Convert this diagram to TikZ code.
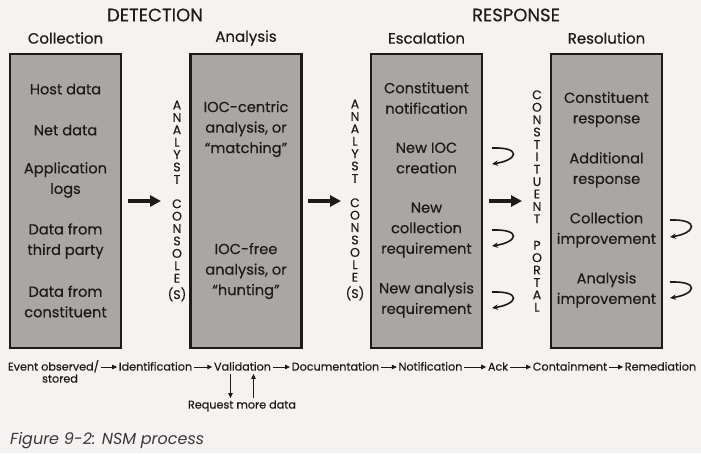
\documentclass[tikz,border=0pt]{standalone}
\usepackage{fontspec}
\setmainfont{Poppins}[FakeBold=0.45]
\newfontfamily\capfont{Poppins}
\usetikzlibrary{arrows.meta}
\definecolor{bg}{HTML}{F4F3F1}
\definecolor{boxgray}{HTML}{A9A7A6}
\definecolor{ink}{HTML}{1E1A1A}
\definecolor{captioncol}{HTML}{3A3838}
\begin{document}
\begin{tikzpicture}[x=1pt,y=-1pt,
  stage/.style={draw=ink, line width=2.2pt, fill=boxgray, minimum width=111pt, minimum height=294pt, inner sep=0pt},
  boxtxt/.style={font=\fontsize{14.6}{20.5}\selectfont, align=center, text=ink, inner sep=0pt},
  head/.style={font=\fontsize{15}{18}\selectfont, text=ink, inner sep=0pt},
  bighead/.style={font=\fontsize{18}{20}\selectfont, text=ink, inner sep=0pt},
  vert/.style={font=\fontsize{12.5}{12.4}\selectfont, align=center, text=ink, inner sep=0pt},
  tl/.style={font=\fontsize{11.2}{13}\selectfont, text=ink, inner sep=1.5pt, text height=1.6ex, text depth=0.3ex},
  tlarrow/.style={draw=ink, -{Triangle[length=5pt,width=4.5pt]}, line width=0.9pt},
  bigarrow/.style={draw=ink, -{Triangle[length=11pt,width=11pt]}, line width=3.6pt},
  back/.style={draw=ink, -{Stealth[length=6pt,width=5.5pt]}, line width=1.6pt}]
\fill[bg] (0,0) rectangle (701,453);
\useasboundingbox (0,0) rectangle (701,453);

% headers
\node[bighead] (det) at (155,15) {DETECTION};
\node[bighead] (resp) at (516,15) {RESPONSE};
\node[head] (hcoll) at (65.5,38) {Collection};
\node[head] (hana) at (246,38) {Analysis};
\node[head] (hesc) at (426.5,38) {Escalation};
\node[head] (hres) at (606.5,38) {Resolution};

% boxes
\node[stage] (coll) at (65.5,201) {};
\node[stage] (ana) at (246,201) {};
\node[stage] (esc) at (426.5,201) {};
\node[stage] (res) at (606.5,201) {};

% collection texts
\node[boxtxt] (c1) at (65.5,89) {Host data};
\node[boxtxt] (c2) at (65.5,130) {Net data};
\node[boxtxt] (c3) at (65.5,180) {Application\\logs};
\node[boxtxt] (c4) at (65.5,241) {Data from\\third party};
\node[boxtxt] (c5) at (65.5,301.5) {Data from\\constituent};

% analysis texts
\node[boxtxt] (a1) at (246,129) {IOC-centric\\analysis, or\\“matching”};
\node[boxtxt] (a2) at (246,271) {IOC-free\\analysis, or\\“hunting”};

% escalation texts
\node[boxtxt] (e1) at (426.5,98) {Constituent\\notification};
\node[boxtxt] (e2) at (426.5,158) {New IOC\\creation};
\node[boxtxt] (e3) at (426.5,230) {New\\collection\\requirement};
\node[boxtxt] (e4) at (426.5,300) {New analysis\\requirement};

% resolution texts
\node[boxtxt] (r1) at (606.5,109.5) {Constituent\\response};
\node[boxtxt] (r2) at (606.5,170) {Additional\\response};
\node[boxtxt] (r3) at (606.5,230) {Collection\\improvement};
\node[boxtxt] (r4) at (606.5,290) {Analysis\\improvement};

% vertical labels
\node[vert] (con1) at (177,201) {A\\N\\A\\L\\Y\\S\\T\\[12pt]C\\O\\N\\S\\O\\L\\E\\[4pt](S)};
\node[vert] (con2) at (355,200) {A\\N\\A\\L\\Y\\S\\T\\[12pt]C\\O\\N\\S\\O\\L\\E\\[4pt](S)};
\node[vert] (portal) at (537,201) {C\\O\\N\\S\\T\\I\\T\\U\\E\\N\\T\\[14pt]P\\O\\R\\T\\A\\L};

% thick arrows
\coordinate (b1s) at (128,201); \coordinate (b1e) at (161,201);
\coordinate (b2s) at (308,201); \coordinate (b2e) at (341,201);
\coordinate (b3s) at (489,201); \coordinate (b3e) at (522,201);
\draw[bigarrow] (b1s) -- (b1e);
\draw[bigarrow] (b2s) -- (b2e);
\draw[bigarrow] (b3s) -- (b3e);

% return arrows
\coordinate (k1s) at (492,148); \coordinate (k1e) at (492,164);
\coordinate (k2s) at (492,230); \coordinate (k2e) at (492,246);
\coordinate (k3s) at (492,292); \coordinate (k3e) at (492,308);
\coordinate (k4s) at (670,220); \coordinate (k4e) at (670,237);
\coordinate (k5s) at (670,282); \coordinate (k5e) at (670,298);
\foreach \k in {k1,k2,k3,k4,k5}{
  \draw[back] (\k s) .. controls +(30,-1) and +(26,-4) .. (\k e);
}

% timeline
\node[tl] (ev) at (53.5,367) {Event observed/};
\node[tl] (evb) at (60,379) {stored};
\node[tl] (id) at (155.5,367) {Identification};
\node[tl] (val) at (242.5,367) {Validation};
\node[tl] (doc) at (335.5,367) {Documentation};
\node[tl] (noti) at (430.5,367) {Notification};
\node[tl] (ack) at (498,367) {Ack};
\node[tl] (cont) at (570,367) {Containment};
\node[tl] (rem) at (660.5,367) {Remediation};
\node[tl] (req) at (242,405) {Request more data};
\draw[tlarrow] (ev) -- (id);
\draw[tlarrow] (id) -- (val);
\draw[tlarrow] (val) -- (doc);
\draw[tlarrow] (doc) -- (noti);
\draw[tlarrow] (noti) -- (ack);
\draw[tlarrow] (ack) -- (cont);
\draw[tlarrow] (cont) -- (rem);
\draw[tlarrow] ([xshift=-12pt]val.south) -- ([xshift=-12pt]val.south |- req.north);
\draw[tlarrow] ([xshift=11pt]val.south |- req.north) -- ([xshift=11pt]val.south);

% caption
\node[font=\capfont\fontsize{16}{18}\selectfont\itshape, text=captioncol, anchor=west, inner sep=0pt] (cap) at (10,441) {Figure 9-2: NSM process};
\end{tikzpicture}
\end{document}
